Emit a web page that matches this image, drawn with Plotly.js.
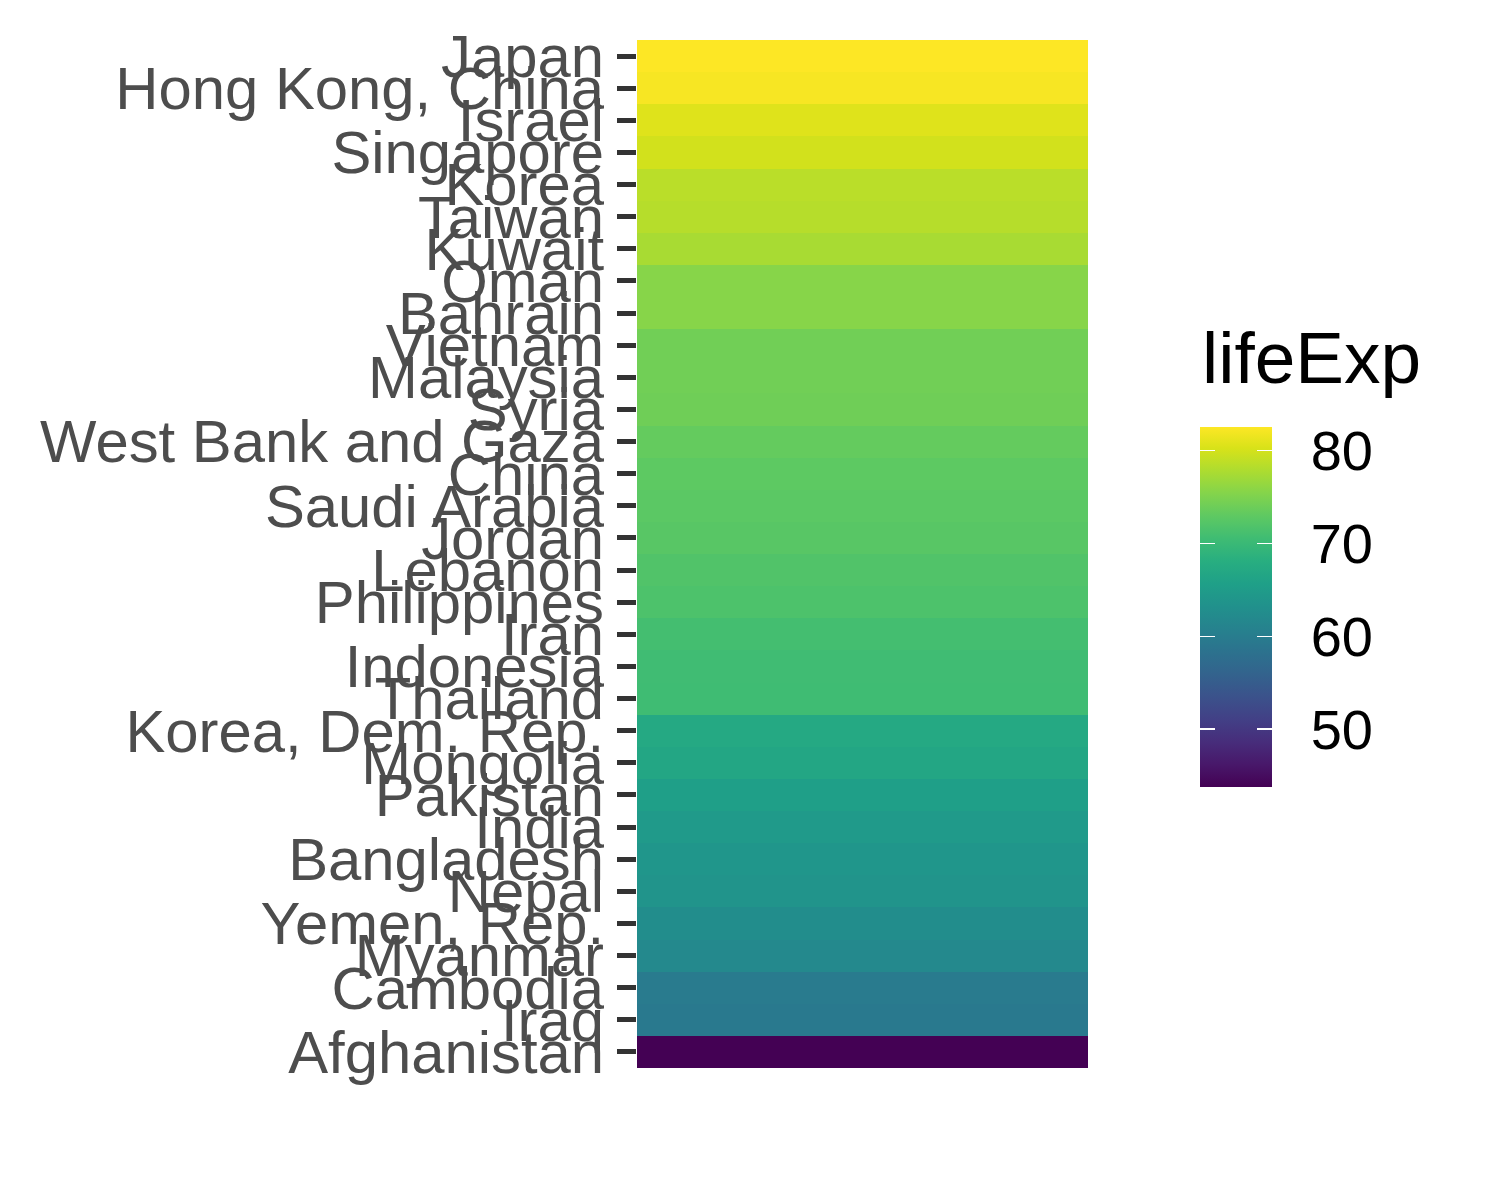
<!DOCTYPE html>
<html>
<head>
<meta charset="utf-8">
<script src="https://cdn.plot.ly/plotly-3.0.1.min.js"></script>
<style>html,body{margin:0;padding:0;background:#fff;}#chart{width:1500px;height:1200px;}</style>
</head>
<body>
<div id="chart"></div>
<script>
// Countries ordered bottom (lowest) to top (highest)
const countries = ["Afghanistan","Iraq","Cambodia","Myanmar","Yemen, Rep.","Nepal","Bangladesh","India","Pakistan","Mongolia","Korea, Dem. Rep.","Thailand","Indonesia","Iran","Philippines","Lebanon","Jordan","Saudi Arabia","China","West Bank and Gaza","Syria","Malaysia","Vietnam","Bahrain","Oman","Kuwait","Taiwan","Korea","Singapore","Israel","Hong Kong, China","Japan"];
const lifeExp = [43.828,59.545,59.723,62.069,62.698,63.785,64.062,64.698,65.483,66.803,67.297,70.616,70.65,70.964,71.688,71.993,72.535,72.777,72.961,73.422,74.143,74.241,74.249,75.635,75.64,77.588,78.4,78.623,79.972,80.745,82.208,82.603];
const column = ["lifeExp"];
const colorbarTicks = [50,60,70,80];
const legendTitle = "lifeExp";

const FONT = "Liberation Sans, Arial, sans-serif";
const zData = lifeExp.map(v => [v]);

function cbBase(extra) {
  return Object.assign({
    xref: "container", yref: "container",
    x: 0.8, xanchor: "left", xpad: 0,
    y: 0.41, yanchor: "middle", ypad: 0,
    lenmode: "pixels", len: 360,
    thicknessmode: "pixels", thickness: 72,
    outlinewidth: 0,
    tickvals: colorbarTicks,
    ticktext: colorbarTicks.map(String)
  }, extra);
}

function layer(colorbar) {
  return {
    type: "heatmap",
    x: column,
    y: countries,
    z: zData,
    colorscale: "Viridis",
    hoverinfo: "y+z",
    colorbar: colorbar
  };
}

// layer 1: draws the bar and the tick labels (invisible outside ticks give the label gap)
const t1 = layer(cbBase({
  ticks: "outside", ticklen: 28, tickwidth: 1, tickcolor: "rgba(0,0,0,0)",
  tickfont: {family: FONT, size: 56, color: "#000"}
}));
// layer 2: white ticks on the right inner edge
const t2 = layer(cbBase({
  ticks: "inside", ticklen: 15, tickwidth: 1.5, tickcolor: "#ffffff",
  showticklabels: false
}));
// layer 3: narrow overlay giving white ticks on the left inner edge
const t3 = layer(cbBase({
  thickness: 15,
  ticks: "inside", ticklen: 15, tickwidth: 1.5, tickcolor: "#ffffff",
  showticklabels: false
}));

const layout = {
  width: 1500, height: 1200,
  paper_bgcolor: "#ffffff", plot_bgcolor: "#ffffff",
  margin: {l: 637, r: 412, t: 40, b: 132, pad: 0},
  xaxis: {showticklabels: false, showgrid: false, zeroline: false, ticks: "", showline: false, fixedrange: true},
  yaxis: {
    type: "category",
    categoryorder: "array", categoryarray: countries,
    tickmode: "array", tickvals: countries, ticktext: countries,
    showgrid: false, zeroline: false, showline: false,
    ticks: "outside", ticklen: 19, tickwidth: 5, tickcolor: "#333333",
    ticklabelstandoff: 1,
    tickfont: {family: FONT, size: 59.8, color: "#4d4d4d"},
    automargin: false
  },
  annotations: [{
    text: legendTitle,
    xref: "paper", yref: "paper",
    x: (1200 - 637) / 451, xanchor: "left",
    y: (1068 - 357) / 1028, yanchor: "middle",
    showarrow: false,
    font: {family: FONT, size: 73, color: "#000"}
  }],
  showlegend: false
};

Plotly.newPlot("chart", [t1, t2, t3], layout, {displayModeBar: false, staticPlot: true});
</script>
</body>
</html>
